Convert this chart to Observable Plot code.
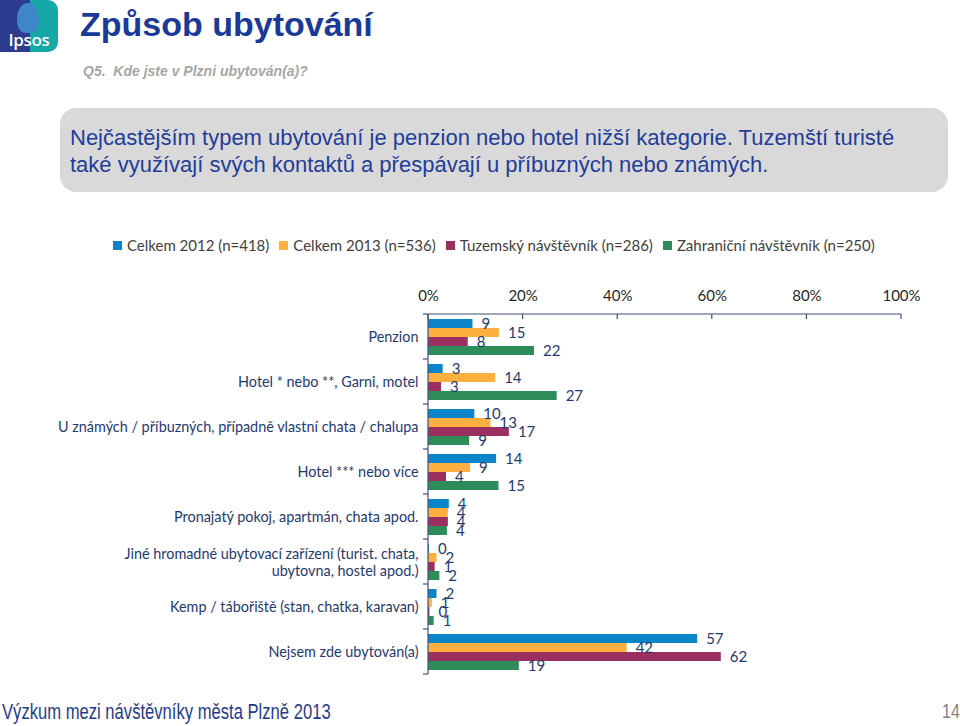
<!DOCTYPE html>
<html><head><meta charset="utf-8">
<script src="https://cdn.jsdelivr.net/npm/d3@7"></script>
<script src="https://cdn.jsdelivr.net/npm/@observablehq/plot@0.6"></script>
<style>
body{margin:0;background:#fff;}
#page{position:relative;width:960px;height:726px;overflow:hidden;font-family:"Liberation Sans",Arial,sans-serif;background:#fff;}
#logo{position:absolute;left:0;top:0;width:58px;height:52px;background:linear-gradient(90deg,#2c3b8e 0,#2c3b8e 52%,#16a8a6 52%,#16a8a6 100%);border-radius:0 10px 10px 0;overflow:hidden;}
#logo .face{position:absolute;left:17px;top:3px;width:22px;height:30px;border-radius:50% 50% 40% 40%;background:#3f86c9;}
#logo .txt{position:absolute;left:0;width:58px;top:28px;text-align:center;color:#fff;font-family:"Open Sans",sans-serif;font-size:17px;font-weight:600;letter-spacing:-0.3px;}
#title{position:absolute;left:80px;top:5px;font-size:34px;font-weight:bold;color:#1b3a98;white-space:nowrap;}
#subtitle{position:absolute;left:83px;top:63px;font-size:14px;font-weight:bold;font-style:italic;color:#a6a6a6;white-space:pre;}
#box{position:absolute;left:60px;top:108px;width:888px;height:84px;background:#d9d9d9;border-radius:16px;}
#box div{position:absolute;left:10px;top:16px;font-size:22px;line-height:27px;color:#1f3d99;white-space:nowrap;}
#legend{position:absolute;left:113px;top:236px;display:flex;gap:10px;font-family:Lato,sans-serif;font-size:15px;color:#404040;white-space:nowrap;}
#legend span.item{display:flex;align-items:center;}
#legend span.sw{display:inline-block;width:9px;height:9px;margin-right:5px;}
#chart{position:absolute;left:0;top:270px;}
#footer{position:absolute;left:2px;top:699px;font-size:22px;color:#1f3c8c;white-space:nowrap;transform:scaleX(0.755);transform-origin:0 0;}
#pageno{position:absolute;left:942px;top:700px;font-size:20px;color:#7f7f7f;transform:scaleX(0.8);transform-origin:0 0;}
</style></head>
<body>
<div id="page">
  <div id="logo"><div class="face"></div><div class="txt">Ipsos</div></div>
  <div id="title">Způsob ubytování</div>
  <div id="subtitle">Q5.  Kde jste v Plzni ubytován(a)?</div>
  <div id="box"><div>Nejčastějším typem ubytování je penzion nebo hotel nižší kategorie. Tuzemští turisté<br>také využívají svých kontaktů a přespávají u příbuzných nebo známých.</div></div>
  <div id="legend"></div>
  <div id="chart"></div>
  <div id="footer">Výzkum mezi návštěvníky města Plzně 2013</div>
  <div id="pageno">14</div>
</div>
<script>
const categories = [
  "Penzion",
  "Hotel * nebo **, Garni, motel",
  "U známých / příbuzných, případně vlastní chata / chalupa",
  "Hotel *** nebo více",
  "Pronajatý pokoj, apartmán, chata apod.",
  "Jiné hromadné ubytovací zařízení (turist. chata,\nubytovna, hostel apod.)",
  "Kemp / tábořiště (stan, chatka, karavan)",
  "Nejsem zde ubytován(a)"
];
const series = ["Celkem 2012 (n=418)", "Celkem 2013 (n=536)", "Tuzemský návštěvník (n=286)", "Zahraniční návštěvník (n=250)"];
const celkem2012 = [9.4, 3.1, 9.8, 14.4, 4.4, 0.2, 1.8, 56.9];
const celkem2013 = [15.0, 14.2, 13.2, 8.9, 4.2, 1.8, 0.8, 42.0];
const tuzemsky   = [8.4, 2.75, 17.1, 3.8, 4.2, 1.4, 0.3, 61.9];
const zahranicni = [22.4, 27.2, 8.7, 14.9, 4.0, 2.4, 1.2, 19.2];
const xTicks = [0, 20, 40, 60, 80, 100];
const colors = ["#0b85c8", "#fdb03f", "#9b3060", "#2e8c5a"];

const seriesValues = [celkem2012, celkem2013, tuzemsky, zahranicni];
const rows = [];
categories.forEach((c, i) => series.forEach((s, j) => rows.push({cat: c, series: s, value: seriesValues[j][i]})));

// legend
const lg = document.getElementById("legend");
series.forEach((s, j) => {
  const it = document.createElement("span"); it.className = "item";
  const sw = document.createElement("span"); sw.className = "sw"; sw.style.background = colors[j];
  it.appendChild(sw); it.appendChild(document.createTextNode(s));
  lg.appendChild(it);
});

const labelColor = "#1f3a70";
const chart = Plot.plot({
  width: 960,
  height: 410,
  marginLeft: 428,
  marginRight: 59,
  marginTop: 44,
  marginBottom: 6,
  style: {fontFamily: "Lato, sans-serif", background: "transparent", overflow: "visible"},
  x: {domain: [0, 100], axis: null},
  y: {domain: series, paddingInner: 0, paddingOuter: 0.5, axis: null},
  fy: {domain: categories, padding: 0, axis: null},
  color: {domain: series, range: colors},
  marks: [
    Plot.barX(rows, {fy: "cat", y: "series", x: "value", fill: "series"}),
    Plot.text(rows, {fy: "cat", y: "series", x: "value", text: d => String(Math.round(d.value)), dx: 8.5, textAnchor: "start", fill: labelColor, fontSize: 15}),
    Plot.text(categories, {fy: d => d, text: d => d, frameAnchor: "left", dx: -10, textAnchor: "end", fill: labelColor, fontSize: 14.4, lineHeight: 1.18}),
    Plot.axisX(xTicks, {anchor: "top", tickSize: 0, tickPadding: 14, tickFormat: d => d + "%", fontSize: 15, fill: "#262626", label: null})
  ]
});
document.getElementById("chart").appendChild(chart);

// axis lines and tick marks, placed with the plot's own scales
const xs = chart.scale("x"), fys = chart.scale("fy");
const svg = d3.select(chart);
const g = svg.append("g").attr("stroke", "#3f4f78").attr("stroke-width", 1.2).attr("fill", "none");
const x0 = xs.apply(0), x100 = xs.apply(100);
const yTop = fys.apply(categories[0]);
const yBot = fys.apply(categories[categories.length - 1]) + fys.bandwidth;
g.append("line").attr("x1", x0).attr("x2", x100).attr("y1", yTop).attr("y2", yTop);
g.append("line").attr("x1", x0).attr("x2", x0).attr("y1", yTop).attr("y2", yBot);
xTicks.forEach(t => g.append("line").attr("x1", xs.apply(t)).attr("x2", xs.apply(t)).attr("y1", yTop).attr("y2", yTop + 5));
categories.forEach(c => g.append("line").attr("x1", x0 - 5).attr("x2", x0).attr("y1", fys.apply(c)).attr("y2", fys.apply(c)));
g.append("line").attr("x1", x0 - 5).attr("x2", x0).attr("y1", yBot).attr("y2", yBot);
</script>
</body></html>
